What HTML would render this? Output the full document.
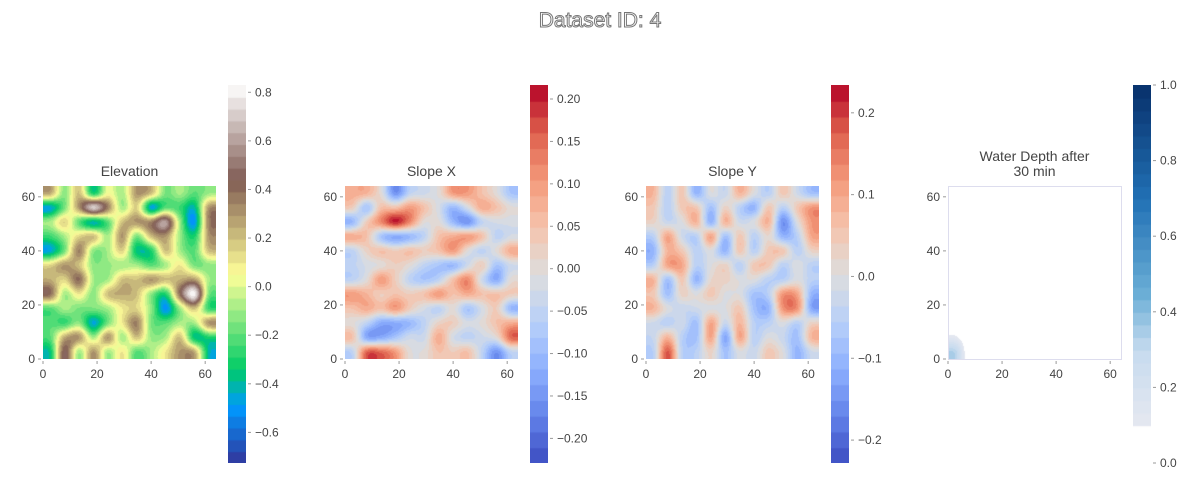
<!DOCTYPE html>
<html><head><meta charset="utf-8">
<style>
html,body{margin:0;padding:0;background:#fff;width:1200px;height:500px;overflow:hidden}
#wrap{position:relative;width:1200px;height:500px}
canvas{position:absolute}
svg{position:absolute;left:0;top:0}
text{font-family:"Liberation Sans","DejaVu Sans",sans-serif;fill:#444}
</style></head>
<body>
<div id="wrap">
<svg id="ov" width="1200" height="500">
<text x="600" y="27" text-anchor="middle" font-size="21" style="fill:#fff;stroke:#777;stroke-width:1">Dataset ID: 4</text>
</svg>
</div>
<script>
// ---- data (12x12 grids, row 0 = top / y=64) ----
const elevation = [
[0.25,-0.12,0.2,-0.3,0.05,-0.08,0.3,0.2,-0.15,-0.08,-0.2,-0.1],
[-0.45,-0.15,0.3,0.7,0.35,-0.08,0.15,-0.45,-0.2,-0.25,-0.4,0.3],
[-0.08,0.15,-0.2,-0.4,-0.2,0.2,0.3,0.35,0.6,-0.1,-0.5,0.35],
[-0.25,-0.08,0.15,0.2,-0.08,0.3,-0.15,0.2,0.3,-0.1,-0.3,0.3],
[-0.45,-0.15,0.35,-0.12,-0.08,0.15,-0.35,-0.3,0.2,-0.08,-0.2,0.2],
[0.15,0.3,0.2,-0.12,-0.1,-0.08,-0.08,-0.2,-0.08,0.1,-0.15,-0.12],
[0.25,0.15,0.4,-0.08,-0.08,0.2,0.2,0.3,0.2,0.25,0.3,-0.08],
[0.4,-0.08,0.1,-0.12,0.2,0.25,0.2,-0.12,-0.3,0.4,0.8,-0.15],
[-0.2,-0.08,-0.15,-0.15,-0.08,0.1,0.15,-0.12,-0.5,-0.1,0.2,-0.25],
[-0.2,-0.25,-0.12,-0.45,-0.15,0.1,0.35,-0.15,-0.2,-0.08,-0.08,0.3],
[-0.2,0.25,0.3,-0.08,0.3,-0.08,0.2,-0.1,-0.08,0.2,-0.35,-0.3],
[-0.35,0.45,-0.08,0.3,-0.08,0.1,-0.2,-0.08,0.1,0.3,0.25,-0.4]];
const slopeX = [
[0.08,0.07,0,-0.15,-0.05,-0.03,0,0.1,0.1,0.05,0,-0.08],
[0.03,-0.08,0.05,0.05,0.1,0.05,-0.02,-0.1,-0.02,0.08,0.05,0],
[-0.1,0.03,0.12,0.2,0.12,0,0,-0.1,-0.15,-0.05,-0.02,-0.02],
[0.08,0.05,-0.08,-0.12,-0.1,-0.05,0.05,0.08,0.1,0.05,-0.05,-0.02],
[-0.05,0.02,0.05,0.03,0.05,0.03,0.05,0.1,0,-0.05,0,0.08],
[-0.05,-0.02,0,0.03,0,-0.05,-0.08,-0.1,-0.03,0.03,-0.08,-0.03],
[-0.05,0,0.1,0.03,-0.05,-0.08,-0.05,0.05,0.12,-0.03,-0.12,0],
[0.1,0.07,0.03,0.05,0.03,0.05,0.1,0.05,0.08,0.05,0.05,0.03],
[0.05,0.08,0.05,0.1,0.03,-0.02,-0.05,0,-0.08,-0.02,0.03,-0.1],
[0,-0.05,-0.12,-0.12,-0.1,-0.05,0.02,0.03,-0.02,0,0.05,0.08],
[0.05,-0.12,-0.12,-0.08,-0.03,-0.03,0.08,-0.02,-0.05,-0.03,0,0.15],
[-0.05,0.15,0.15,0.1,0,0,0.05,0.03,0.05,-0.05,-0.15,-0.05]];
const slopeY = [
[0.08,-0.05,0.05,-0.1,0,-0.03,0.08,0,-0.05,0.05,-0.02,-0.08],
[0.05,-0.05,0.05,0.05,-0.08,0.03,-0.05,-0.1,0.05,-0.05,0.05,0.12],
[0.03,-0.03,0,0.08,-0.1,0.08,-0.02,0,0.08,-0.15,0,0.12],
[-0.05,0.1,-0.02,-0.05,0.1,-0.08,0.05,-0.05,0.02,-0.1,-0.05,0.1],
[-0.1,0.08,0.05,-0.05,0,-0.1,0.05,-0.05,0.05,0.05,-0.05,0.03],
[-0.05,0.1,0.1,-0.05,0,0.03,-0.05,0.05,0.05,-0.05,0,-0.05],
[0.08,-0.08,0.05,-0.1,0.02,0.03,0,0,-0.05,-0.05,0,-0.05],
[0.05,-0.08,0.03,0,0.05,0,0,-0.08,-0.05,0.12,0.1,-0.1],
[0.08,0,-0.03,-0.02,0,0,0.05,-0.08,-0.1,0.12,0.12,-0.12],
[-0.02,-0.05,-0.02,-0.08,0.1,-0.03,0.08,-0.05,-0.05,0,-0.05,0.03],
[-0.03,0.08,-0.05,-0.08,0.1,-0.12,0.1,-0.05,0,-0.03,-0.08,0.08],
[-0.05,0.18,-0.05,-0.05,0.03,-0.08,0,-0.03,0.05,0,-0.1,-0.02]];
const water = Array.from({length:12},()=>Array(12).fill(0));
water[11][0] = 0.32; water[10][0] = 0.12;
const axisTicks = [0,20,40,60];
const elevTicks = [-0.6,-0.4,-0.2,0,0.2,0.4,0.6,0.8];
const sxTicks = [-0.2,-0.15,-0.1,-0.05,0,0.05,0.1,0.15,0.2];
const syTicks = [-0.2,-0.1,0,0.1,0.2];
const wTicks = [0,0.2,0.4,0.6,0.8,1.0];

// ---- colormaps ----
function lerpStops(stops,t){t=Math.max(0,Math.min(1,t));for(let i=1;i<stops.length;i++){if(t<=stops[i][0]){const a=stops[i-1],b=stops[i];const f=(t-a[0])/(b[0]-a[0]||1);return [0,1,2].map(k=>Math.round(a[1][k]+(b[1][k]-a[1][k])*f));}}return stops[stops.length-1][1];}
const terrain=[[0,[51,51,153]],[0.15,[0,153,255]],[0.25,[0,204,102]],[0.5,[255,255,153]],[0.75,[128,92,84]],[1,[255,255,255]]];
const coolwarm=[[0,[59,76,192]],[0.125,[98,130,234]],[0.25,[141,176,254]],[0.375,[184,208,249]],[0.5,[221,221,221]],[0.625,[245,196,173]],[0.75,[244,154,123]],[0.875,[222,96,77]],[1,[180,4,38]]];
const blues=[[0,[255,255,255]],[0.09,[255,255,255]],[0.1,[230,232,240]],[0.3,[198,219,239]],[0.45,[107,174,214]],[0.7,[33,113,181]],[1,[8,48,107]]];

const panels=[
 {name:'elevation',title:['Elevation'],grid:elevation,px:43,cx:228,vmin:-0.726,vmax:0.83,cmap:terrain,levels:32,ticks:elevTicks,fmt:v=>v.toFixed(1)},
 {name:'slope-x',title:['Slope X'],grid:slopeX,px:345,cx:530,vmin:-0.229,vmax:0.2165,cmap:coolwarm,levels:24,ticks:sxTicks,fmt:v=>v.toFixed(2)},
 {name:'slope-y',title:['Slope Y'],grid:slopeY,px:646,cx:831,vmin:-0.228,vmax:0.234,cmap:coolwarm,levels:24,ticks:syTicks,fmt:v=>v.toFixed(1)},
 {name:'water-depth',title:['Water Depth after','30 min'],grid:water,px:948,cx:1133,vmin:0,vmax:1,cmap:blues,levels:30,ticks:wTicks,fmt:v=>v.toFixed(1),border:true}
];
const PT=186,PS=173,CT=85,CB=463,CW=18;
function xScale(p,v){return p.px+v/64*PS;}
function yScale(v){return PT+PS-v/64*PS;}
function cbScale(p,v){return CB-(v-p.vmin)/(p.vmax-p.vmin)*(CB-CT);}
function quant(p,v){let t=(v-p.vmin)/(p.vmax-p.vmin);t=Math.floor(t*p.levels)/p.levels+0.5/p.levels;return lerpStops(p.cmap,t);}
function cr(a,b,c,d,t){return b+0.5*t*(c-a+t*(2*a-5*b+4*c-d+t*(3*(b-c)+d-a)));}
function sample(g,fx,fy){const n=g.length;const cl=i=>Math.max(0,Math.min(n-1,i));const ix=Math.floor(fx),iy=Math.floor(fy),tx=fx-ix,ty=fy-iy;const rows=[];for(let j=-1;j<=2;j++){const r=g[cl(iy+j)];rows.push(cr(r[cl(ix-1)],r[cl(ix)],r[cl(ix+1)],r[cl(ix+2)],tx));}return cr(rows[0],rows[1],rows[2],rows[3],ty);}

const wrap=document.getElementById('wrap');const ov=document.getElementById('ov');const NS='http://www.w3.org/2000/svg';
function sv(tag,attrs,txt){const e=document.createElementNS(NS,tag);for(const k in attrs)e.setAttribute(k,attrs[k]);if(txt!==undefined)e.textContent=txt;ov.appendChild(e);return e;}
panels.forEach(p=>{
 const c=document.createElement('canvas');c.width=PS;c.height=PS;c.style.left=p.px+'px';c.style.top=PT+'px';
 
 
 wrap.insertBefore(c,ov);
 const ctx=c.getContext('2d');const img=ctx.createImageData(PS,PS);const n=p.grid.length;
 for(let y=0;y<PS;y++)for(let x=0;x<PS;x++){const dx=(x+0.5)/PS*64,dy=64-(y+0.5)/PS*64;const fx=dx*n/64-0.5,fyTop=(64-dy)*n/64-0.5;const v=sample(p.grid,fx,fyTop);const col=quant(p,Math.max(p.vmin,Math.min(p.vmax,v)));const i=(y*PS+x)*4;img.data[i]=col[0];img.data[i+1]=col[1];img.data[i+2]=col[2];img.data[i+3]=255;}
 ctx.putImageData(img,0,0);
 const cc=document.createElement('canvas');cc.width=CW;cc.height=CB-CT;cc.style.left=p.cx+'px';cc.style.top=CT+'px';
 
 
 wrap.insertBefore(cc,ov);
 const c2=cc.getContext('2d');
 for(let k=0;k<p.levels;k++){const v0=p.vmin+(p.vmax-p.vmin)*k/p.levels,v1=p.vmin+(p.vmax-p.vmin)*(k+1)/p.levels;const col=lerpStops(p.cmap,(k+0.5)/p.levels);c2.fillStyle=`rgb(${col})`;const y0=cbScale(p,v0)-CT,y1=cbScale(p,v1)-CT;c2.fillRect(0,y1,CW,y0-y1+1);}
 if(p.border){const b=sv('rect',{x:p.px+0.5,y:PT+0.5,width:PS,height:PS,fill:'none',stroke:'#dde',"stroke-width":1});}
 const cx=p.px+PS/2;
 p.title.forEach((t,i)=>{const e=sv('text',{x:cx,y:176-(p.title.length-1-i)*15,"text-anchor":'middle',"font-size":14},t);});
 axisTicks.forEach(v=>{
  const x=xScale(p,v);sv('line',{x1:x,x2:x,y1:PT+PS+2,y2:PT+PS+5,stroke:'#999'});
  const tx=sv('text',{x:x,y:378,"text-anchor":'middle',"font-size":12},String(v));
  const y=yScale(v);sv('line',{x1:p.px-5,x2:p.px-2,y1:y,y2:y,stroke:'#999'});
  const ty=sv('text',{x:p.px-8,y:y+4,"text-anchor":'end',"font-size":12},String(v));
 });
 p.ticks.forEach(v=>{const y=cbScale(p,v);sv('line',{x1:p.cx+CW+2,x2:p.cx+CW+5,y1:y,y2:y,stroke:'#999'});
  const s=(v<0?'\u2212':'')+p.fmt(Math.abs(v));const t=sv('text',{x:p.cx+CW+9,y:y+4,"font-size":12},s);});
});
</script>
</body></html>
